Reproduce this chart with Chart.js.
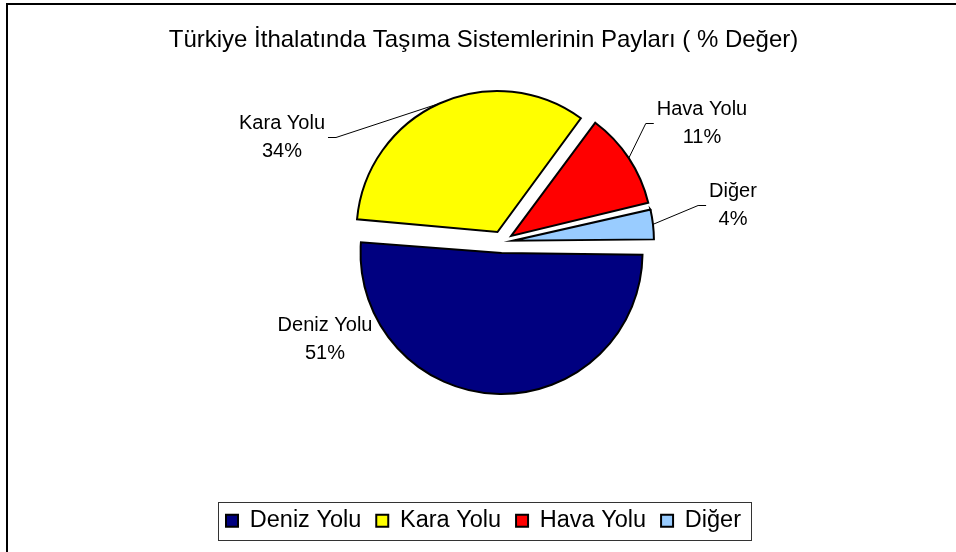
<!DOCTYPE html>
<html>
<head>
<meta charset="utf-8">
<script src="https://cdn.jsdelivr.net/npm/chart.js@4.4.1/dist/chart.umd.min.js"></script>
<style>
  html, body { margin: 0; padding: 0; background: #fff; }
  #wrap { width: 956px; height: 552px; }
</style>
</head>
<body>
<div id="wrap"><canvas id="chart" width="956" height="552"></canvas></div>
<script>
const categories = ['Deniz Yolu', 'Kara Yolu', 'Hava Yolu', 'Diğer'];
const shareValues = [51.4, 33.7, 11.2, 3.7];
const sliceColors = ['#000080', '#FFFF00', '#FF0000', '#99CCFF'];
const titleText = 'Türkiye İthalatında Taşıma Sistemlerinin Payları ( % Değer)';

const FONT = '"Liberation Sans", Arial, sans-serif';
const PIE_RADIUS = 141;
const PIE_CENTER = { x: 502, y: 242 };
const EXPLODE = 44; // chart.js moves a slice out by offset / 4

// where each data label block sits, relative to the pie centre
const labelPlacement = [
  { dx: -177, dy: 97, leader: false },
  { dx: -220, dy: -105, leader: true },
  { dx: 200, dy: -119, leader: true },
  { dx: 231, dy: -37, leader: true }
];

const pageFrame = {
  id: 'pageFrame',
  beforeDraw(chart) {
    const ctx = chart.ctx;
    ctx.save();
    ctx.fillStyle = '#fff';
    ctx.fillRect(0, 0, chart.width, chart.height);
    ctx.strokeStyle = '#000';
    ctx.lineWidth = 2;
    ctx.strokeRect(7, 4, chart.width + 20, chart.height + 20);
    ctx.restore();
  }
};

const pieBox = {
  id: 'pieBox',
  afterLayout(chart) {
    // the pie is not centred under the title / legend in the original
    const a = chart.chartArea;
    const half = PIE_RADIUS + 30;
    a.left = PIE_CENTER.x - half;
    a.right = PIE_CENTER.x + half;
    a.top = PIE_CENTER.y - half;
    a.bottom = PIE_CENTER.y + half;
    a.width = 2 * half;
    a.height = 2 * half;
  },
  afterDatasetUpdate(chart, args) {
    // chart.js grows offset slices a bit; keep every slice on one radius
    const shift = EXPLODE / 4;
    args.meta.data.forEach(arc => {
      const sweep = arc.endAngle - arc.startAngle;
      arc.outerRadius = PIE_RADIUS - shift * (1 - Math.sin(Math.min(Math.PI, sweep)));
    });
  }
};

const sliceLabels = {
  id: 'sliceLabels',
  afterDraw(chart) {
    const ctx = chart.ctx;
    const meta = chart.getDatasetMeta(0);
    const total = shareValues.reduce((s, v) => s + v, 0);
    ctx.save();
    ctx.font = '20px ' + FONT;
    ctx.fillStyle = '#000';
    ctx.strokeStyle = '#000';
    ctx.lineWidth = 1;
    ctx.textAlign = 'center';
    ctx.textBaseline = 'middle';
    meta.data.forEach((arc, i) => {
      const place = labelPlacement[i];
      const lx = arc.x + place.dx;
      const ly = arc.y + place.dy;
      const lines = [categories[i], Math.round(shareValues[i] / total * 100) + '%'];
      ctx.fillText(lines[0], lx, ly - 14);
      ctx.fillText(lines[1], lx, ly + 14);
      if (!place.leader) return;
      const mid = (arc.startAngle + arc.endAngle) / 2;
      const r = PIE_RADIUS + EXPLODE / 4;
      const ex = arc.x + Math.cos(mid) * r;
      const ey = arc.y + Math.sin(mid) * r;
      const half = Math.max(...lines.map(t => ctx.measureText(t).width)) / 2 + 3;
      const side = ex < lx ? -1 : 1;
      const endX = lx + side * half;
      ctx.beginPath();
      ctx.moveTo(ex, ey);
      ctx.lineTo(endX + side * 8, Math.round(ly) + 0.5);
      ctx.lineTo(endX, Math.round(ly) + 0.5);
      ctx.stroke();
    });
    ctx.restore();
  }
};

const legendFrame = {
  id: 'legendFrame',
  afterDraw(chart) {
    const boxes = chart.legend.legendHitBoxes;
    if (!boxes.length) return;
    const first = boxes[0];
    const last = boxes[boxes.length - 1];
    const ctx = chart.ctx;
    const left = Math.round(first.left - 8) + 0.5;
    const right = Math.round(last.left + last.width + 10) + 0.5;
    const top = Math.round(first.top - 7) + 0.5;
    ctx.save();
    ctx.strokeStyle = '#333';
    ctx.lineWidth = 1;
    ctx.strokeRect(left, top, right - left, 38);
    ctx.restore();
  }
};

new Chart(document.getElementById('chart'), {
  type: 'pie',
  data: {
    labels: categories,
    datasets: [{
      data: shareValues,
      backgroundColor: sliceColors,
      borderColor: '#000',
      borderWidth: 2,
      borderJoinStyle: 'miter',
      offset: EXPLODE,
      radius: PIE_RADIUS,
      rotation: 90,
      clip: false
    }]
  },
  options: {
    responsive: false,
    animation: false,
    events: [],
    layout: { padding: { left: 11, right: 0, top: 0, bottom: 9.5 } },
    plugins: {
      title: {
        display: true,
        text: titleText,
        color: '#000',
        font: { family: FONT, size: 24, weight: 'normal' },
        padding: { top: 25.5, bottom: 10 }
      },
      legend: {
        position: 'bottom',
        labels: {
          color: '#000',
          font: { family: FONT, size: 23.5 },
          boxWidth: 12,
          boxHeight: 12,
          padding: 15
        }
      },
      tooltip: { enabled: false }
    }
  },
  plugins: [pageFrame, pieBox, sliceLabels, legendFrame]
});
</script>
</body>
</html>
